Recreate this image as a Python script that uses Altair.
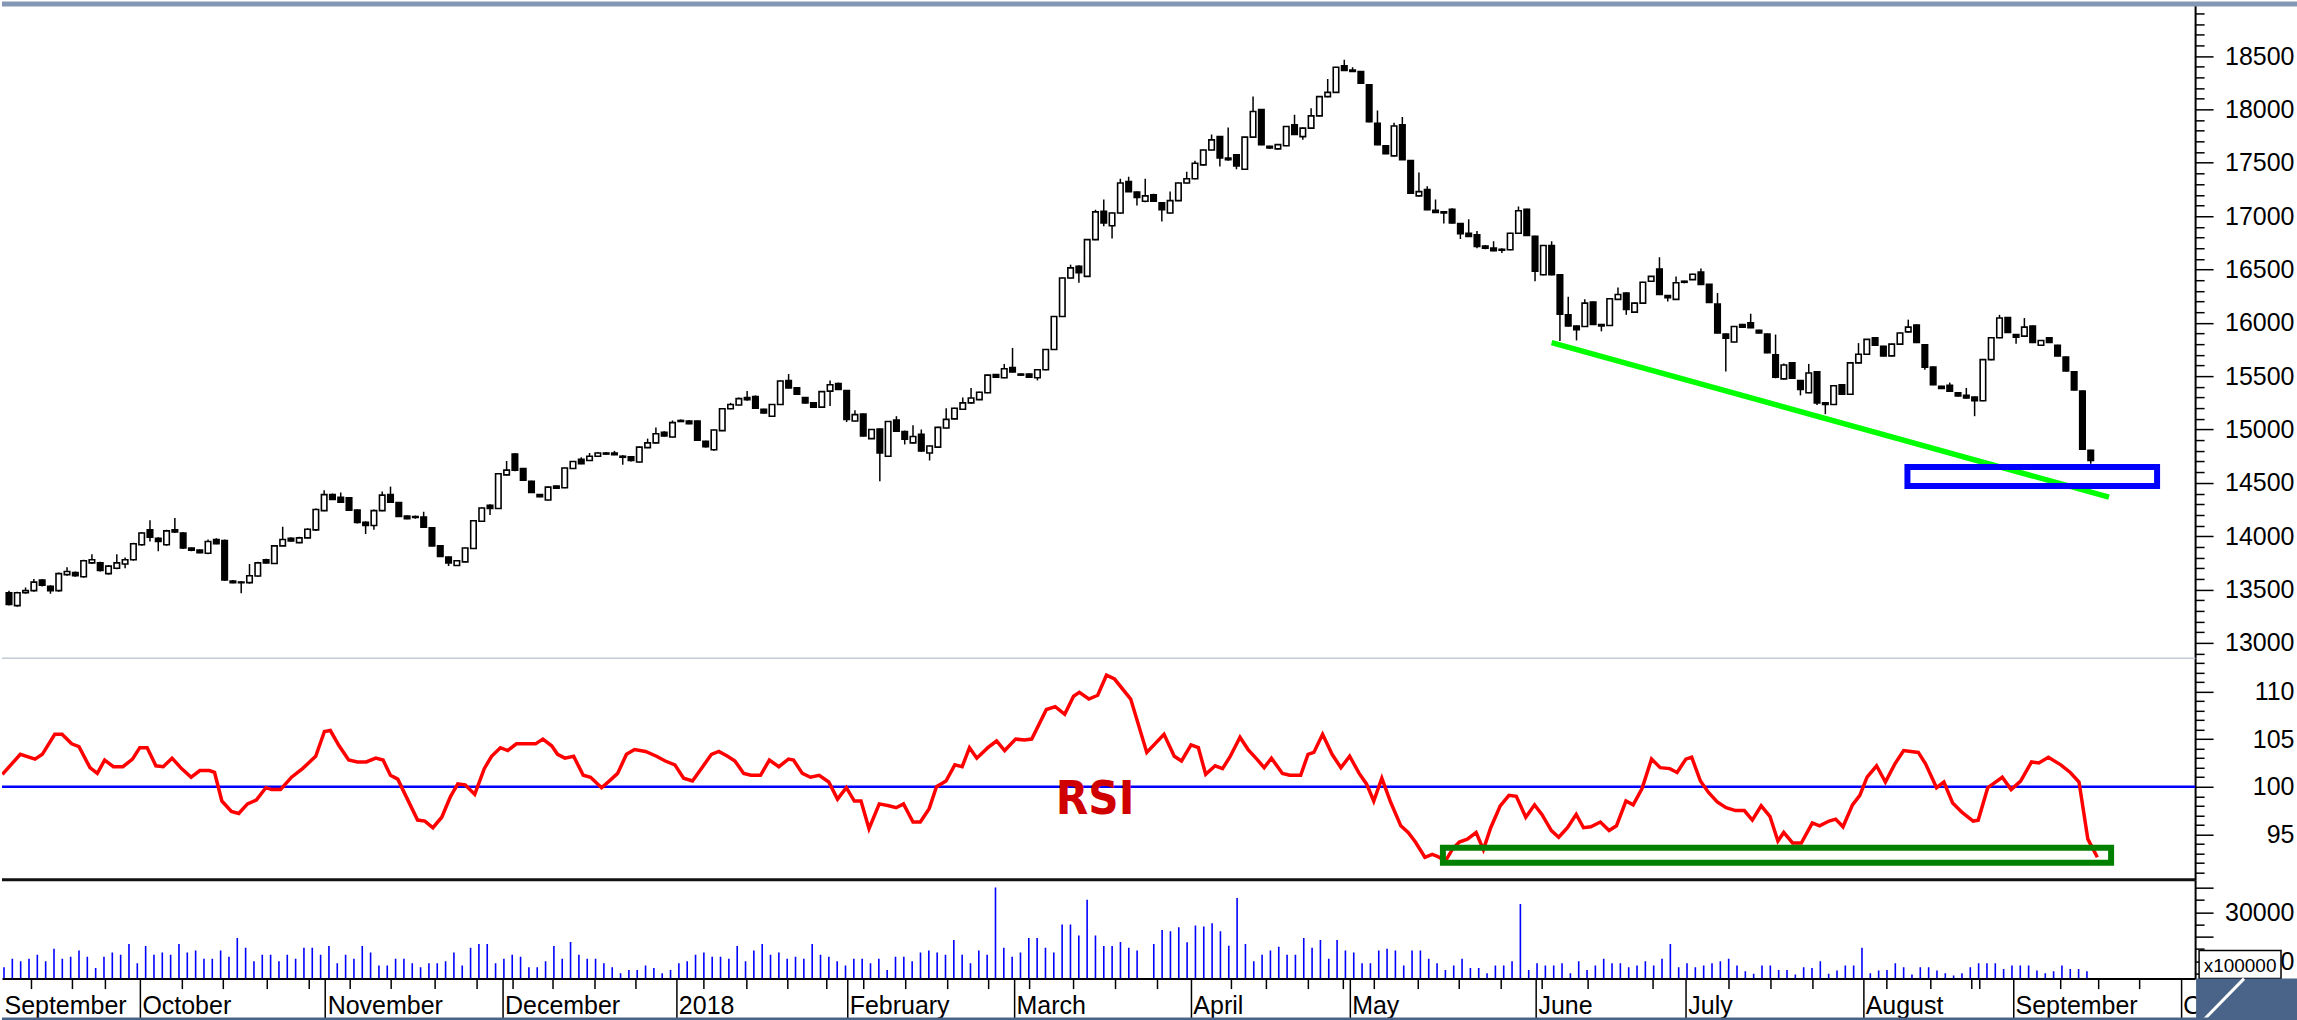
import altair as alt
import pandas as pd

# ---------------- data ----------------
opens = [
    13470, 13350, 13470, 13490, 13590, 13530, 13490, 13640, 13660, 13620,
    13750, 13750, 13650, 13700, 13740, 13780, 13920, 14060, 13980, 13920,
    14060, 14030, 13890, 13870, 13840, 13970, 13960, 13580, 13570, 13565,
    13627, 13780, 13745, 13910, 13980, 13940, 13985,
    14060, 14240, 14390, 14365, 14360, 14245, 14130, 14100, 14240, 14390,
    14315, 14190, 14185, 14180, 14080, 13910, 13805, 13725, 13760, 13885,
    14140, 14290, 14260, 14575, 14770, 14635, 14515, 14390, 14340, 14470,
    14455, 14635, 14720, 14710, 14750, 14780,
    14780, 14750, 14745, 14695, 14830, 14875, 14975, 14930, 15085, 15080,
    15080, 14890, 14810, 14990, 15195, 15230, 15300, 15310, 15190, 15125,
    15235, 15460, 15390, 15300, 15250, 15210, 15360, 15430, 15365, 15080,
    15145, 14915, 15005, 14750, 15090,
    14980, 14875, 14955, 14780, 14835, 15015, 15100, 15190, 15250, 15280,
    15345, 15515, 15485, 15580, 15520, 15520, 15485, 15560, 15750, 16060,
    16420, 16530, 16435, 16780, 17045, 16910, 17030, 17325, 17225, 17140,
    17200, 17125, 17030, 17145, 17310, 17350,
    17480, 17620, 17745, 17545, 17575, 17440, 17740, 18000, 17655, 17630,
    17660, 17855, 17745, 17825, 17940, 18120, 18160, 18410, 18370, 18355,
    18230, 17870, 17660, 17565, 17855, 17520, 17190, 17250, 17055, 17040,
    17065, 16930, 16840, 16825, 16720,
    16700, 16680, 16685, 16840, 17065, 16810, 16450, 16725, 16450, 16075,
    15970, 15965, 16195, 15985, 15975, 16220, 16280, 16100, 16185, 16390,
    16505, 16255, 16220, 16390, 16405, 16475, 16360, 16175, 15895, 15820,
    15985, 16000, 15930, 15895,
    15700, 15475, 15625, 15460, 15345, 15540, 15250, 15235, 15420, 15330,
    15625, 15705, 15860, 15780, 15690, 15800, 15915, 15980, 15795, 15585,
    15405, 15415, 15345, 15320, 15305, 15270, 15655, 15860, 16050, 15890,
    15875, 15970, 15790, 15860, 15790, 15680, 15540, 15360, 14805,
]
highs = [
    13490, 13480, 13520, 13600, 13600, 13540, 13660, 13710, 13670, 13780,
    13830, 13760, 13730, 13830, 13800, 13940, 14040, 14150, 13990, 14060,
    14170, 14040, 13895, 13875, 13970, 13980, 13970, 13590, 13580, 13740,
    13760, 13790, 13915, 14090, 13990, 13995, 14075,
    14260, 14430, 14400, 14410, 14365, 14250, 14140, 14250, 14420, 14465,
    14320, 14195, 14195, 14230, 14085, 13915, 13810, 13775, 13895, 14150,
    14270, 14300, 14590, 14705, 14780, 14640, 14520, 14395, 14465, 14475,
    14645, 14705, 14740, 14780, 14790, 14790,
    14800, 14760, 14750, 14840, 14915, 15020, 14985, 15085, 15095, 15090,
    15085, 14895, 15000, 15200, 15250, 15300, 15360, 15320, 15195, 15240,
    15460, 15520, 15395, 15305, 15255, 15360, 15460, 15440, 15370, 15180,
    15150, 15005, 15010, 15080, 15125,
    14990, 15040, 15000, 14850, 15025, 15200, 15205, 15300, 15390, 15355,
    15515, 15520, 15615, 15765, 15525, 15525, 15565, 15755, 16065, 16425,
    16545, 16540, 16785, 17060, 17155, 17035, 17350, 17370, 17230, 17350,
    17210, 17130, 17230, 17315, 17415, 17520,
    17625, 17765, 17750, 17830, 17580, 17745, 18120, 18005, 17660, 17675,
    17845, 17950, 17830, 18010, 18125, 18285, 18400, 18465, 18395, 18360,
    18235, 17990, 17665, 17875, 17930, 17525, 17410, 17280, 17155, 17045,
    17075, 16935, 16970, 16860, 16730,
    16765, 16700, 16845, 17090, 17070, 16815, 16730, 16765, 16455, 16245,
    15975, 16220, 16200, 15990, 16225, 16330, 16285, 16190, 16385, 16440,
    16615, 16260, 16435, 16395, 16460, 16510, 16365, 16280, 15900, 15970,
    15990, 16085, 15935, 15900,
    15890, 15620, 15630, 15465, 15615, 15545, 15255, 15415, 15425, 15625,
    15810, 15845, 15865, 15785, 15805, 15910, 16030, 15985, 15800, 15590,
    15410, 15440, 15350, 15390, 15310, 15660, 15860, 16075, 16055, 15895,
    16045, 15975, 15840, 15865, 15795, 15685, 15545, 15365, 14810,
]
lows = [
    13350, 13340, 13460, 13480, 13530, 13460, 13480, 13630, 13620, 13610,
    13740, 13670, 13640, 13690, 13700, 13770, 13910, 13950, 13860, 13910,
    14030, 13880, 13860, 13840, 13830, 13925, 13580, 13560, 13465, 13555,
    13620, 13745, 13740, 13905, 13950, 13935, 13980,
    14050, 14235, 14340, 14315, 14240, 14120, 14020, 14060, 14235, 14315,
    14180, 14160, 14165, 14080, 13905, 13805, 13720, 13720, 13755, 13880,
    14135, 14200, 14255, 14570, 14610, 14520, 14405, 14365, 14335, 14445,
    14450, 14630, 14675, 14705, 14745, 14765,
    14760, 14670, 14700, 14690, 14825, 14870, 14935, 14925, 15070, 15050,
    14895, 14830, 14800, 14985, 15190, 15225, 15270, 15195, 15150, 15120,
    15230, 15385, 15325, 15245, 15205, 15205, 15220, 15370, 15070, 15075,
    14935, 14910, 14515, 14745, 14980,
    14860, 14870, 14790, 14710, 14830, 15010, 15095, 15185, 15245, 15275,
    15340, 15485, 15480, 15535, 15505, 15485, 15460, 15555, 15745, 16055,
    16415, 16375, 16430, 16775, 16905, 16790, 17025, 17225, 17100, 17130,
    17135, 16950, 17025, 17140, 17305, 17345,
    17475, 17615, 17465, 17520, 17440, 17435, 17735, 17665, 17630, 17625,
    17655, 17760, 17715, 17820, 17935, 18115, 18155, 18360, 18350, 18240,
    17880, 17665, 17580, 17560, 17525, 17210, 17185, 17055, 17030, 16930,
    16930, 16785, 16805, 16700, 16690,
    16670, 16655, 16680, 16835, 16815, 16390, 16445, 16445, 15830, 15965,
    15835, 15960, 15980, 15920, 15970, 16215, 16075, 16095, 16180, 16385,
    16260, 16200, 16215, 16370, 16400, 16355, 16185, 15900, 15545, 15815,
    15955, 15950, 15900, 15715,
    15480, 15470, 15475, 15320, 15340, 15230, 15145, 15230, 15325, 15325,
    15620, 15700, 15785, 15685, 15685, 15795, 15910, 15810, 15560, 15415,
    15380, 15355, 15310, 15290, 15125, 15265, 15650, 15855, 15905, 15805,
    15870, 15810, 15785, 15810, 15685, 15545, 15365, 14810, 14680,
]
closes = [
    13360, 13470, 13490, 13570, 13540, 13490, 13650, 13670, 13630, 13770,
    13780, 13680, 13720, 13750, 13780, 13930, 14030, 13990, 13950, 14050,
    14040, 13890, 13870, 13845, 13950, 13930, 13590, 13565, 13565, 13630,
    13750, 13750, 13910, 13970, 13955, 13985, 14065,
    14250, 14390, 14345, 14320, 14245, 14130, 14100, 14240, 14385, 14320,
    14185, 14165, 14175, 14085, 13910, 13810, 13750, 13770, 13890, 14145,
    14265, 14260, 14585, 14620, 14620, 14525, 14410, 14370, 14460, 14450,
    14640, 14700, 14680, 14750, 14780, 14770,
    14765, 14740, 14710, 14835, 14875, 14960, 14940, 15065, 15075, 15055,
    14900, 14840, 14995, 15195, 15235, 15290, 15280, 15200, 15155, 15235,
    15455, 15390, 15330, 15250, 15210, 15355, 15420, 15375, 15095, 15140,
    14940, 15000, 14780, 15075, 14985,
    14910, 14935, 14800, 14845, 15020, 15095, 15200, 15250, 15295, 15350,
    15510, 15490, 15570, 15540, 15510, 15490, 15560, 15750, 16060, 16420,
    16515, 16470, 16780, 17040, 16935, 17030, 17310, 17230, 17175, 17190,
    17140, 17060, 17145, 17310, 17350, 17495,
    17620, 17715, 17545, 17530, 17470, 17740, 17980, 17670, 17640, 17670,
    17840, 17765, 17825, 17940, 18120, 18160, 18395, 18365, 18355, 18245,
    17885, 17670, 17585, 17845, 17530, 17215, 17230, 17060, 17035, 17030,
    16935, 16835, 16810, 16715, 16700,
    16675, 16690, 16840, 17050, 16820, 16485, 16725, 16450, 16080, 15970,
    15935, 16185, 15985, 15970, 16225, 16265, 16125, 16185, 16380, 16435,
    16265, 16235, 16375, 16380, 16455, 16360, 16190, 15905, 15855, 15965,
    15960, 15955, 15905, 15720,
    15490, 15605, 15480, 15375, 15530, 15250, 15235, 15410, 15330, 15625,
    15705, 15845, 15790, 15690, 15800, 15905, 15960, 15815, 15585, 15420,
    15385, 15360, 15315, 15295, 15270, 15655, 15860, 16045, 15910, 15865,
    15960, 15815, 15835, 15815, 15690, 15550, 15370, 14815, 14710,
]

# RSI (trading-day index, value)
rsi_points = [
    (-0.2, 101.3), (1.96, 103.4), (3.72, 102.9), (4.6, 103.4), (6.09, 105.5), (6.97, 105.5),
    (8.12, 104.5), (9.0, 104.2), (10.32, 102.0), (11.2, 101.4), (12.08, 102.8), (13.13, 102.1),
    (14.27, 102.1), (15.42, 102.9), (16.3, 104.1), (17.18, 104.1), (18.23, 102.2), (19.11, 102.1),
    (20.17, 103.0), (21.31, 101.9), (22.46, 101.0), (23.51, 101.7), (24.65, 101.7), (25.27, 101.5),
    (26.15, 98.5), (27.29, 97.4), (28.17, 97.2), (29.23, 98.2), (30.28, 98.6), (31.43, 99.9),
    (32.13, 99.7), (33.19, 99.7), (34.51, 101.0), (35.83, 101.9), (37.41, 103.2), (38.46, 105.8),
    (39.17, 105.9), (40.22, 104.3), (41.37, 102.8), (42.42, 102.6), (43.48, 102.6), (44.62, 103.0),
    (45.5, 102.8), (46.38, 101.2), (47.26, 100.8), (48.14, 99.2), (49.64, 96.5), (50.52, 96.4),
    (51.48, 95.7), (52.54, 96.8), (53.6, 99.0), (54.47, 100.3), (55.35, 100.2), (56.5, 99.2),
    (57.64, 101.9), (58.52, 103.2), (59.58, 104.1), (60.46, 103.8), (61.51, 104.5), (62.66, 104.5),
    (63.8, 104.5), (64.68, 105.0), (65.73, 104.3), (66.44, 103.4), (67.32, 103.0), (68.37, 103.2),
    (69.52, 101.2), (70.4, 101.0), (71.72, 99.9), (72.77, 100.7), (73.65, 101.4), (74.71, 103.4),
    (75.68, 103.9), (77.0, 103.7), (78.31, 103.2), (79.37, 102.7), (80.52, 102.3), (81.57, 100.9),
    (82.63, 100.6), (83.77, 102.0), (84.91, 103.4), (85.79, 103.7), (86.85, 103.2), (87.73, 102.7),
    (88.78, 101.4), (89.66, 101.2), (90.8, 101.2), (91.86, 102.8), (93.0, 102.1), (94.15, 102.9),
    (94.76, 102.8), (95.82, 101.4), (96.79, 101.0), (97.84, 101.2), (98.99, 100.5), (100.04, 98.7),
    (101.1, 99.9), (102.06, 98.5), (102.86, 98.5), (103.82, 95.6), (105.05, 98.2), (106.2, 98.0),
    (107.08, 97.8), (107.96, 98.2), (109.1, 96.3), (109.98, 96.3), (111.04, 97.7), (111.92, 100.0),
    (113.06, 100.6), (114.12, 102.3), (115.0, 102.1), (115.88, 104.1), (116.76, 103.0), (118.08, 104.1),
    (119.13, 104.8), (120.1, 103.8), (121.42, 105.0), (122.47, 104.9), (123.35, 105.0), (125.11, 108.1),
    (126.17, 108.4), (127.31, 107.6), (128.37, 109.5), (129.07, 109.9), (130.21, 109.2), (131.27, 109.6),
    (132.32, 111.7), (133.29, 111.3), (135.23, 109.2), (137.16, 103.6),
    (139.23, 105.5), (140.46, 103.2), (141.33, 102.7), (142.47, 104.4), (143.35, 104.1), (144.23, 101.3),
    (145.37, 102.2), (146.25, 101.9), (147.12, 103.1), (148.35, 105.2), (149.32, 103.9), (150.37, 102.9),
    (151.25, 102.0), (152.12, 103.0), (153.44, 101.4), (154.32, 101.2), (155.63, 101.2), (156.51, 103.4),
    (157.21, 103.6), (158.26, 105.5), (159.4, 103.4), (160.46, 102.0), (161.51, 103.2), (162.65, 101.4),
    (163.53, 100.3), (164.4, 98.5), (165.37, 100.9), (166.42, 98.4), (167.65, 95.9), (168.53, 95.2),
    (169.4, 94.2), (170.54, 92.6), (171.42, 92.9), (172.04, 92.7), (173.0, 92.2), (173.88, 93.5),
    (174.67, 94.2), (175.63, 94.5), (176.69, 95.2), (177.56, 93.4), (178.44, 95.7), (179.58, 98.0),
    (180.63, 99.1), (181.51, 99.0), (182.65, 96.8), (183.7, 98.1), (184.58, 97.1), (185.72, 95.4),
    (186.6, 94.7), (187.65, 95.7), (188.7, 97.1), (189.58, 95.7), (190.46, 95.8), (191.6, 96.3),
    (192.65, 95.4), (193.53, 95.9), (194.67, 98.5), (195.54, 98.1), (196.6, 99.8), (197.74, 102.9),
    (198.79, 102.0), (199.93, 101.9), (200.81, 101.5), (201.86, 102.9), (202.56, 103.1), (203.61, 100.6),
    (204.58, 99.4), (205.63, 98.4), (206.69, 97.8), (207.83, 97.5), (208.88, 97.5), (209.84, 96.5),
    (210.9, 98.0), (211.95, 96.9), (212.91, 94.3), (213.61, 95.2), (214.67, 94.1), (215.72, 94.1),
    (217.04, 96.2), (217.91, 95.9), (219.05, 96.4), (219.84, 96.6), (220.72, 95.8), (221.86, 98.1),
    (222.74, 99.1), (223.61, 101.0), (224.75, 102.2), (225.81, 100.5), (226.95, 102.4), (228.0, 103.8),
    (229.76, 103.6), (230.63, 102.4), (231.95, 99.9), (232.83, 100.5), (233.88, 98.3), (235.02, 97.3),
    (236.34, 96.4), (236.95, 96.5), (238.09, 99.9), (239.84, 101.0), (240.9, 99.7), (242.04, 100.6),
    (243.35, 102.6), (244.23, 102.5), (245.37, 103.1), (246.86, 102.3), (248.0, 101.5), (249.05, 100.5),
    (250.11, 94.5), (251.25, 92.6),
]

# volume (x100000), first block days 0..136, second block days 138..250
vol_first = [
    7600, 11000, 10000, 11000, 12700, 10000, 15100, 11000, 11900, 14400,
    11900, 7300, 11900, 13600, 12700, 17100, 9200, 16300, 12700, 13600,
    12700, 17100, 13600, 14400, 11000, 11000, 14400, 11900, 19500, 15500,
    10000, 12700, 12700, 10000, 12700, 11000, 15500, 15500, 12700, 16300,
    9200, 12700, 11000, 16300, 13600, 8300, 8300, 11000, 11000, 9200,
    7600, 9200, 9200, 10000, 13600, 8300, 15500, 17100, 17100, 9200,
    11000, 12700, 11900, 7600, 7600, 10000, 16300, 11000, 17900, 12700,
    11000, 11000, 9200, 7600, 5100, 6500, 6500, 8300, 7300, 5100,
    6500, 9200, 10000, 12700, 13600, 11900, 11900, 11000, 16300, 10000,
    14400, 17100, 12700, 13600, 11000, 11900, 11000, 17100, 12700, 11900,
    10000, 8300, 11000, 11000, 9200, 11000, 6500, 11900, 11900, 10000,
    13600, 14400, 13600, 12700, 18700, 12700, 9200, 14400, 12700, 40200,
    15500, 11900, 13600, 19500, 19500, 15500, 13600, 25000, 25000, 20500,
    35100, 20500, 16300, 16300, 17900, 15500, 14400,
]
vol_second = [
    17100, 22800, 22300, 23900, 17800, 24600, 24200, 25500, 22300, 16400,
    35900, 17100, 10000, 12700, 14400, 16000, 12700, 12700, 19500, 15500,
    18700, 11000, 18700, 14400, 13600, 9200, 9200, 14400, 15100, 14400,
    8300, 14400, 14400, 11000, 9200, 6500, 8300, 11000, 7300, 7300,
    5100, 8300, 8300, 10000, 33400, 6500, 9200, 8300, 8300, 9200,
    5100, 10000, 6500, 8300, 11000, 9200, 9200, 7600, 8300, 10000,
    8300, 11000, 17100, 7600, 9200, 7600, 8300, 9200, 10000, 11000,
    8300, 5900, 4900, 8300, 8300, 6500, 6500, 4600, 7600, 7300,
    10000, 4900, 6200, 8300, 8300, 15500, 5100, 6200, 6500, 9200,
    7600, 4600, 7600, 7600, 6200, 5100, 4200, 5100, 7600, 9200,
    9200, 9200, 6900, 8300, 8300, 8300, 6200, 5100, 5900, 8300,
    6900, 6900, 5900,
]

# annotations (data coordinates)
trend_x = [186, 253.2]
trend_p = [15815, 14367]
blue_box = {"x0": 228.9, "x1": 259.0, "p0": 14470, "p1": 14648}
green_box = {"x0": 172.7, "x1": 252.9, "v0": 92.03, "v1": 93.6}
rsi_label = {"x": 130.95, "v": 97.17, "t": "RSI"}

# time axis (trading-day index positions)
month_pos = [-0.24, 16.31, 38.55, 59.83, 80.7, 101.2, 121.22, 142.45, 161.51,
             183.87, 201.86, 223.14, 241.13, 261.27]
month_names = ["September", "October", "November", "December", "2018", "February",
               "March", "April", "May", "June", "July", "August", "September", "October"]
week_pos = [3.27, 8.2, 12.16, 21.31, 26.23, 31.51, 36.52, 41.45, 46.46, 51.65, 56.67,
            60.98, 65.83, 70.84, 75.77, 83.93, 89.05, 93.98, 98.73, 103.12, 108.14,
            113.15, 118.17, 123.09, 128.37, 133.3, 138.36, 147.3, 151.43, 156.51,
            160.64, 164.4, 169.66, 174.58, 179.58, 184.58, 190.01, 197.91, 206.94,
            212.02, 217.03, 225.97, 231.23, 236.15, 237.03, 246.85, 251.4, 256.32]

# ---------------- layout ----------------
W = 2195
H_PRICE, H_RSI, H_VOL = 657, 222, 99
FONT = "Liberation Sans"

X_DOMAIN = [-0.24, 262.98]
P_DOMAIN = [12860, 19012]
R_DOMAIN = [90.25, 113.52]
V_DOMAIN = [2940, 43350]

xscale = alt.Scale(domain=X_DOMAIN, nice=False, zero=False)
pscale = alt.Scale(domain=P_DOMAIN, nice=False, zero=False)
rscale = alt.Scale(domain=R_DOMAIN, nice=False, zero=False)
vscale = alt.Scale(domain=V_DOMAIN, nice=False, zero=False)


def right_axis(values, major_test, label_test):
    return alt.Axis(
        orient="right", values=values, format="d", title=None, grid=False,
        tickSize={"condition": {"test": major_test, "value": 18}, "value": 9},
        labelExpr=f"({label_test}) ? datum.label : ''",
        labelAlign="right", labelBaseline="middle", labelPadding=81,
        labelFont=FONT, labelFontSize=25, labelColor="black",
        labelOverlap=False, labelBound=False, labelFlush=False,
        tickColor="black", tickWidth=1.5, domainColor="black", domainWidth=2,
    )


one = pd.DataFrame({"k": [0]})

# ---- price panel ----
cdf = pd.DataFrame({"i": list(range(len(opens))), "open": opens, "high": highs,
                    "low": lows, "close": closes})
price_axis = right_axis(list(range(12900, 19000, 100)), "datum.value % 500 === 0",
                        "datum.value % 500 === 0")
xnone = alt.X("i:Q", scale=xscale, axis=None)

banner = alt.Chart(one).mark_rect(color="#8497b5").encode(
    x=alt.value(0), x2=alt.value(2297), y=alt.value(0), y2=alt.value(5))
wicks = alt.Chart(cdf).mark_rule(color="black", strokeWidth=1.5, clip=True).encode(
    x=xnone, y=alt.Y("low:Q", scale=pscale, axis=price_axis), y2="high:Q")
bodies = alt.Chart(cdf).mark_bar(size=5.5, stroke="black", strokeWidth=1.6, clip=True).encode(
    x=xnone, y=alt.Y("open:Q", scale=pscale, axis=price_axis), y2="close:Q",
    fill=alt.condition("datum.close > datum.open", alt.value("white"), alt.value("black")))
trend = alt.Chart(pd.DataFrame({"i": trend_x, "p": trend_p})).mark_line(
    color="#00ff00", strokeWidth=5.5, clip=True).encode(
    x=xnone, y=alt.Y("p:Q", scale=pscale, axis=price_axis))
bbox = alt.Chart(pd.DataFrame([blue_box])).mark_rect(
    fillOpacity=0, stroke="#0000ff", strokeWidth=6).encode(
    x=alt.X("x0:Q", scale=xscale, axis=None), x2="x1:Q",
    y=alt.Y("p0:Q", scale=pscale, axis=price_axis), y2="p1:Q")
price = alt.layer(banner, wicks, bodies, trend, bbox).properties(width=W, height=H_PRICE)

# ---- RSI panel ----
rdf = pd.DataFrame(rsi_points, columns=["i", "v"])
rsi_axis = right_axis(list(range(91, 114)), "datum.value % 5 === 0", "datum.value % 5 === 0")
sep1 = alt.Chart(one).mark_rule(color="#c3cbd6", strokeWidth=1.5).encode(
    x=alt.value(0), x2=alt.value(W), y=alt.value(0.5))
line100 = alt.Chart(pd.DataFrame({"v": [100]})).mark_rule(color="#0000ff", strokeWidth=2.5).encode(
    y=alt.Y("v:Q", scale=rscale, axis=rsi_axis))
rline = alt.Chart(rdf).mark_line(color="#ff0000", strokeWidth=3.5, clip=True).encode(
    x=xnone, y=alt.Y("v:Q", scale=rscale, axis=rsi_axis))
gbox = alt.Chart(pd.DataFrame([green_box])).mark_rect(
    fillOpacity=0, stroke="#008000", strokeWidth=6).encode(
    x=alt.X("x0:Q", scale=xscale, axis=None), x2="x1:Q",
    y=alt.Y("v0:Q", scale=rscale, axis=rsi_axis), y2="v1:Q")
rtext = alt.Chart(pd.DataFrame([rsi_label])).mark_text(
    font="Liberation Sans Narrow, DejaVu Sans Condensed, sans-serif", fontSize=47,
    fontWeight="bold", color="#d00000", baseline="alphabetic", align="center").encode(
    x=alt.X("x:Q", scale=xscale, axis=None), y=alt.Y("v:Q", scale=rscale, axis=rsi_axis),
    text="t:N")
rsi = alt.layer(sep1, line100, rline, gbox, rtext).properties(width=W, height=H_RSI)

# ---- volume panel ----
vdf = pd.DataFrame({"i": list(range(len(vol_first))) + list(range(138, 138 + len(vol_second))),
                    "v": vol_first + vol_second})
month_test = " || ".join(f"datum.value == {p}" for p in month_pos)
label_expr = "''"
for p, n in reversed(list(zip(month_pos, month_names))):
    label_expr = f"datum.value == {p} ? '{n}' : ({label_expr})"
x_axis = alt.Axis(
    values=month_pos + week_pos, title=None, grid=False,
    tickSize={"condition": {"test": month_test, "value": 40}, "value": 10},
    tickColor={"condition": {"test": "datum.value < 0", "value": "transparent"}, "value": "black"},
    labelExpr=label_expr, labelAlign="left", labelBaseline="alphabetic",
    labelPadding=-5, labelOffset=2, labelFont=FONT, labelFontSize=25, labelColor="black",
    labelOverlap=False, labelBound=False, labelFlush=False,
    tickWidth=1.5, domainColor="black", domainWidth=2)
vol_axis = right_axis(list(range(5000, 45000, 5000)), "datum.value % 10000 === 0",
                      "datum.value == 10000 || datum.value == 30000")
sep2 = alt.Chart(one).mark_rule(color="#111111", strokeWidth=3).encode(
    x=alt.value(0), x2=alt.value(W), y=alt.value(0))
vbars = alt.Chart(vdf).mark_rule(color="#0000ff", strokeWidth=1.6, clip=True).encode(
    x=alt.X("i:Q", scale=xscale, axis=x_axis),
    y=alt.Y("v:Q", scale=vscale, axis=vol_axis), y2=alt.datum(V_DOMAIN[0]))
unit_box = alt.Chart(one).mark_rect(fill="white", stroke="black", strokeWidth=1.5).encode(
    x=alt.value(2199), x2=alt.value(2281), y=alt.value(71), y2=alt.value(99))
unit_txt = alt.Chart(one).mark_text(text="x100000", font=FONT, fontSize=19, color="black").encode(
    x=alt.value(2240), y=alt.value(86))
corner = alt.Chart(one).mark_rect(color="#4a6489").encode(
    x=alt.value(2196), x2=alt.value(2297), y=alt.value(99), y2=alt.value(141))
stripe = alt.Chart(one).mark_rule(color="white", strokeWidth=3).encode(
    x=alt.value(2244), y=alt.value(99), x2=alt.value(2203), y2=alt.value(141))
bottom = alt.Chart(one).mark_rect(color="#4a6489").encode(
    x=alt.value(0), x2=alt.value(2297), y=alt.value(138), y2=alt.value(141))
vol = alt.layer(sep2, vbars, unit_box, unit_txt, corner, stripe, bottom).properties(
    width=W, height=H_VOL)

chart = alt.vconcat(price, rsi, vol, spacing=0, bounds="flush").properties(
    padding=0, background="white").configure_view(stroke=None)

chart.save("out.html", embed_options={"renderer": "svg", "actions": False})
